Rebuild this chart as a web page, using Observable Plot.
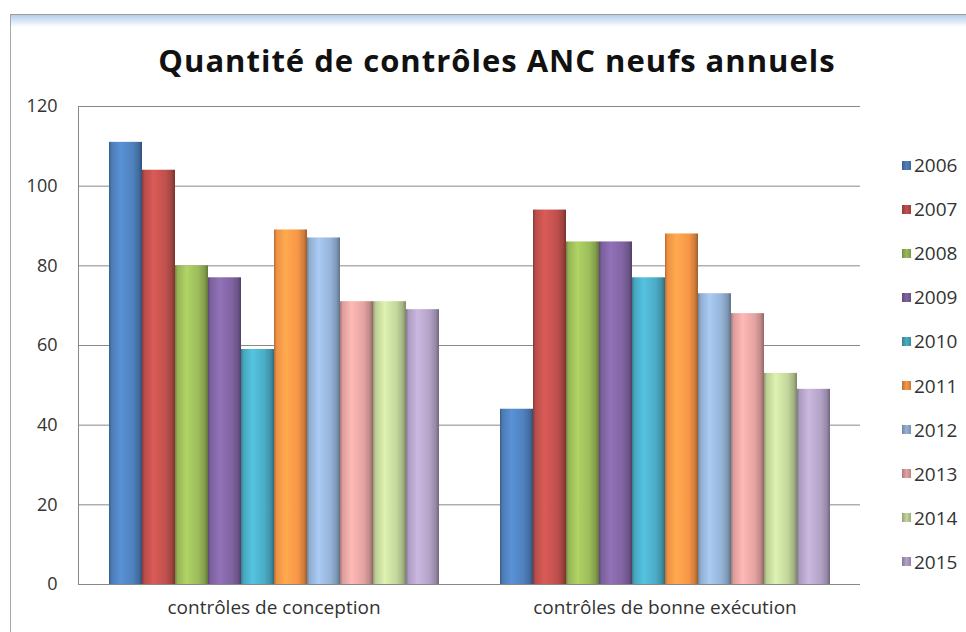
<!DOCTYPE html>
<html>
<head>
<meta charset="utf-8">
<script src="https://cdn.jsdelivr.net/npm/d3@7"></script>
<script src="https://cdn.jsdelivr.net/npm/@observablehq/plot@0.6"></script>
<style>
  body { margin: 0; background: #fff; font-family: "Open Sans", sans-serif; }
  #frame {
    position: absolute; left: 10px; top: 14px; width: 990px; height: 640px;
    border-left: 1px solid #a8a8a8; border-top: 1px solid #9c9c9c;
    background: linear-gradient(#b5cfec 0px, #d9e7f6 6px, #ffffff 12px);
  }
  #title {
    position: absolute; left: 0; top: 0; width: 972px; height: 74px;
    box-sizing: border-box; padding-top: 25px; line-height: 40px;
    text-align: center; font-weight: 700; font-size: 31px; color: #111;
    font-family: "Open Sans", sans-serif; letter-spacing: 1px;
  }
  #chart { position: absolute; left: 0; top: 74px; }
  #legend { position: absolute; left: 891px; top: 128px; }
  .item { height: 44.1px; display: flex; align-items: center; font-size: 19px; color: #333; }
  .sw { width: 9px; height: 9px; margin-right: 3px; }
</style>
</head>
<body>
<div id="frame">
  <div id="title">Quantité de contrôles ANC neufs annuels</div>
  <div id="chart"></div>
  <div id="legend"></div>
</div>
<script>
const categories = ["contrôles de conception", "contrôles de bonne exécution"];
const years = ["2006", "2007", "2008", "2009", "2010", "2011", "2012", "2013", "2014", "2015"];
const conception = [111, 104, 80, 77, 59, 89, 87, 71, 71, 69];
const execution = [44, 94, 86, 86, 77, 88, 73, 68, 53, 49];
const yTicks = [0, 20, 40, 60, 80, 100, 120];
const colors = ["#4F81BD", "#C0504D", "#9BBB59", "#8064A2", "#4BACC6", "#F79646", "#95B3D7", "#E4A3A1", "#C3D69B", "#B3A2C7"];

const data = years.flatMap((y, i) => [
  {category: categories[0], year: y, value: conception[i]},
  {category: categories[1], year: y, value: execution[i]}
]);

const plot = Plot.plot({
  width: 860,
  height: 539,
  marginLeft: 67,
  marginRight: 11,
  marginTop: 17,
  marginBottom: 44,
  style: {fontFamily: "Open Sans, sans-serif", fontSize: "18px", color: "#333", background: "transparent", overflow: "visible"},
  fx: {domain: categories, padding: 0, label: null},
  x: {domain: years, paddingInner: 0, paddingOuter: 0.767, axis: null},
  y: {domain: [0, 120], ticks: yTicks},
  color: {type: "identity"},
  marks: [
    Plot.gridY(yTicks, {stroke: "#888888", strokeOpacity: 1}),
    Plot.barY(data, {fx: "category", x: "year", y: "value", fill: d => `url(#grad${d.year})`}),
    Plot.ruleY([0], {stroke: "#888888"}),
    Plot.frame({anchor: "left", facetAnchor: "left", stroke: "#888888"}),
    Plot.axisY(yTicks, {tickSize: 0, tickPadding: 21, label: null, fontSize: 18}),
    Plot.axisFx({anchor: "bottom", tickSize: 0, tickPadding: 16, label: null, fontSize: 19})
  ]
});

// gradient definitions for the 3D-like bars
const svg = d3.select(plot);
const defs = svg.insert("defs", ":first-child");
years.forEach((y, i) => {
  const c = d3.color(colors[i]);
  const g = defs.append("linearGradient").attr("id", "grad" + y)
    .attr("x1", 0).attr("x2", 1).attr("y1", 0).attr("y2", 0);
  [[0, c.darker(0.9)], [0.08, c.darker(0.1)], [0.35, c.brighter(0.35)], [0.72, c], [0.9, c.darker(0.5)], [1, c.darker(1.3)]]
    .forEach(([o, col]) => g.append("stop").attr("offset", o).attr("stop-color", col.formatHex()));
});
document.getElementById("chart").appendChild(plot);

// legend
const legend = d3.select("#legend");
years.forEach((y, i) => {
  const it = legend.append("div").attr("class", "item");
  it.append("div").attr("class", "sw")
    .style("background", `linear-gradient(90deg, ${d3.color(colors[i]).darker(0.8)}, ${colors[i]}, ${d3.color(colors[i]).darker(0.6)})`);
  it.append("span").text(y);
});
</script>
</body>
</html>
